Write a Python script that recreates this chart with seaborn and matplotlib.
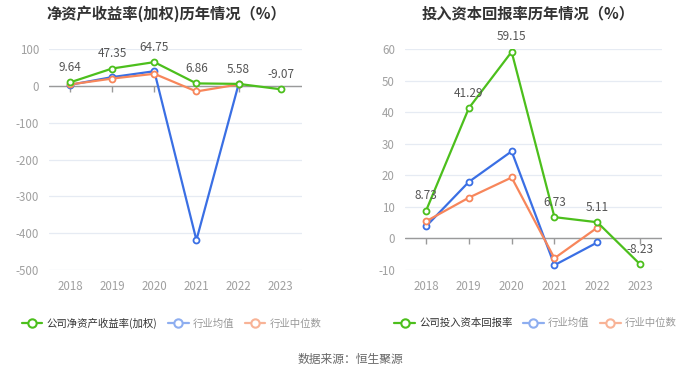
import numpy as np
import pandas as pd
import seaborn as sns
import matplotlib.pyplot as plt
from matplotlib.lines import Line2D

years = [2018, 2019, 2020, 2021, 2022, 2023]

# 净资产收益率(加权)
roe_company = [9.64, 47.35, 64.75, 6.86, 5.58, -9.07]
roe_mean = [3, 24, 40, -419, 4, np.nan]
roe_median = [4, 20, 33, -15, 4, np.nan]

# 投入资本回报率
roic_company = [8.73, 41.29, 59.15, 6.73, 5.11, -8.23]
roic_mean = [3.8, 17.9, 27.6, -8.5, -1.3, np.nan]
roic_median = [5.4, 12.9, 19.3, -6.3, 3.4, np.nan]

GREEN = "#4cbf1c"
BLUE = "#3a6fe4"
ORANGE = "#f7865b"

sns.set_theme(style="white")
plt.rcParams["font.family"] = ["Noto Sans CJK SC", "DejaVu Sans"]
plt.rcParams["axes.unicode_minus"] = False

fig = plt.figure(figsize=(7, 3.78), dpi=100)
ax1 = fig.add_axes([0.070, 0.286, 0.361, 0.584])
ax2 = fig.add_axes([0.578, 0.286, 0.367, 0.584])


def draw(ax, company, mean, median, ylim, yticks, title, cx):
    for vals, col in [(mean, BLUE), (median, ORANGE), (company, GREEN)]:
        df = pd.DataFrame({"year": years, "v": vals}).dropna()
        sns.lineplot(data=df, x="year", y="v", ax=ax, color=col, lw=1.6,
                     marker="o", markersize=4.3, markerfacecolor="white",
                     markeredgecolor=col, markeredgewidth=1.3)
    for x, v in zip(years, company):
        ax.annotate(f"{v:.2f}", (x, v), textcoords="offset points", xytext=(0, 6),
                    ha="center", va="bottom", fontsize=8.5, color="#555555")
    ax.set_xlim(2017.5, 2023.5)
    ax.set_ylim(*ylim)
    ax.set_yticks(yticks)
    ax.set_xticks(years)
    ax.set_xticklabels([str(y) for y in years])
    ax.grid(axis="y", color="#e6ebf3", lw=0.9)
    ax.set_axisbelow(True)
    for s in ax.spines.values():
        s.set_visible(False)
    ax.axhline(0, color="#9a9a9a", lw=1.0, zorder=1)
    ax.plot(years, [0] * len(years), ls="none", marker=3, markersize=4,
            color="#9a9a9a", zorder=1)
    ax.tick_params(axis="both", colors="#a0a0a0", labelsize=8.3, length=0, pad=7)
    ax.set_xlabel("")
    ax.set_ylabel("")
    fig.text(cx, 0.965, title, ha="center", va="center", fontsize=11,
             fontweight="bold", color="#333333")


draw(ax1, roe_company, roe_mean, roe_median, (-500, 100),
     [-500, -400, -300, -200, -100, 0, 100],
     "净资产收益率(加权)历年情况（%）", 0.238)
draw(ax2, roic_company, roic_mean, roic_median, (-10, 60),
     [-10, 0, 10, 20, 30, 40, 50, 60],
     "投入资本回报率历年情况（%）", 0.755)


def handles(name):
    h = [Line2D([], [], color=GREEN, lw=1.6, marker="o", markersize=6,
                markerfacecolor="white", markeredgecolor=GREEN, markeredgewidth=1.5),
         Line2D([], [], color="#8eaef0", lw=1.6, marker="o", markersize=6,
                markerfacecolor="white", markeredgecolor="#8eaef0", markeredgewidth=1.5),
         Line2D([], [], color="#f8b396", lw=1.6, marker="o", markersize=6,
                markerfacecolor="white", markeredgecolor="#f8b396", markeredgewidth=1.5)]
    return h, [name, "行业均值", "行业中位数"]


for name, cx in [("公司净资产收益率(加权)", 0.245), ("公司投入资本回报率", 0.765)]:
    h, l = handles(name)
    leg = fig.legend(h, l, loc="center", bbox_to_anchor=(cx, 0.145), ncol=3,
                     frameon=False, fontsize=7.5, handlelength=2.0,
                     handletextpad=0.4, columnspacing=1.0)
    for i, t in enumerate(leg.get_texts()):
        t.set_color("#333333" if i == 0 else "#999999")

fig.text(0.5, 0.048, "数据来源：恒生聚源", ha="center", va="center",
         fontsize=8.5, color="#666666")

fig.savefig("out.png", dpi=100, facecolor="white")
